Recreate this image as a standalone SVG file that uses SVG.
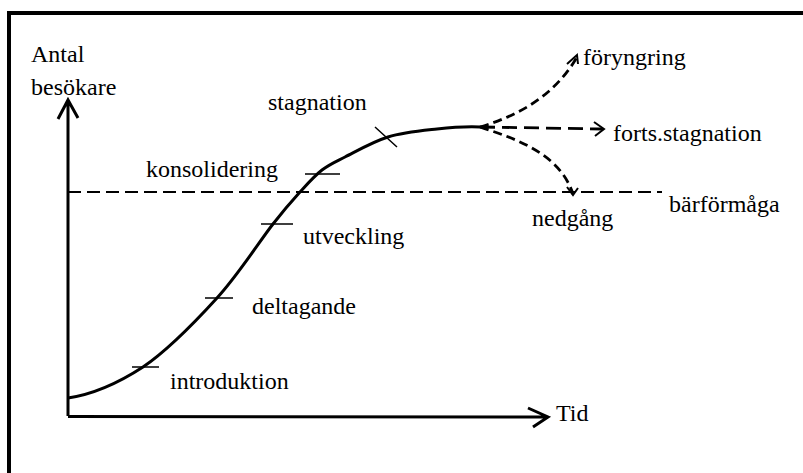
<svg xmlns="http://www.w3.org/2000/svg" width="803" height="473" viewBox="0 0 803 473">
<style>
.ax{fill:none;stroke:#000;stroke-width:3}
.cv{fill:none;stroke:#000;stroke-width:3;stroke-linejoin:round}
.tk{stroke:#000;stroke-width:1.5}
.base{stroke:#000;stroke-width:1.8;stroke-dasharray:13 6;fill:none}
.br{fill:none;stroke:#000;stroke-width:2.8;stroke-dasharray:9 5}
.brh{fill:none;stroke:#000;stroke-width:2.8;stroke-dasharray:15 7}
.ah{fill:none;stroke:#000;stroke-width:2}
</style>
<rect width="803" height="473" fill="#fff"/>
<rect x="9" y="13" width="830" height="500" fill="none" stroke="#000" stroke-width="4"/>
<g id="connectors">
<path class="ax" d="M68,416 L68,100 M58,119 L68,100 L78,118"/>
<path class="ax" d="M68,416.5 L548,417 M528,408 L548,417 L533,427"/>
<path class="base" d="M68,192 L662,192"/>
<path class="cv" d="M68,398 C95,394 120,382 143,367 C167.8,350.3 195.3,321.8 217,298 C238.7,274.2 259.2,241.7 273,224 C286.8,206.3 291.8,201 300,192 C308.2,183 314.5,175.8 322,170 C329.5,164.2 334,162.5 345,157 C356,151.5 372.7,141.7 388,137 C403.3,132.3 421.7,130.7 437,129 C452.3,127.3 472.8,126.7 480,127"/>
<path class="tk" d="M132,367 L159,367 M205,298 L233,298 M261,224 L293,224 M305,174 L340,174 M375,127 L397,147"/>
<path class="br" d="M480,127 C520,115 555,95 577,57"/>
<path class="ah" d="M567,64 L577,55 L578,64"/>
<path class="brh" d="M480,127 L603,129"/>
<path class="ah" d="M594,122 L604,129 L595,136"/>
<path class="br" d="M480,127 C520,140 560,155 573,194"/>
<path class="ah" d="M567,187 L573,195 L578,188"/>
</g>
<g id="labels" font-family="Liberation Serif, Times New Roman, DejaVu Serif, serif" font-size="24" fill="#000">
<text x="31" y="62">Antal</text>
<text x="31" y="95">besökare</text>
<text x="268" y="110">stagnation</text>
<text x="146" y="177">konsolidering</text>
<text x="303" y="244">utveckling</text>
<text x="252" y="314">deltagande</text>
<text x="170" y="389">introduktion</text>
<text x="556" y="421">Tid</text>
<text x="583" y="65">föryngring</text>
<text x="613" y="141">forts.stagnation</text>
<text x="669" y="212">bärförmåga</text>
<text x="532" y="226">nedgång</text>
</g>
</svg>
